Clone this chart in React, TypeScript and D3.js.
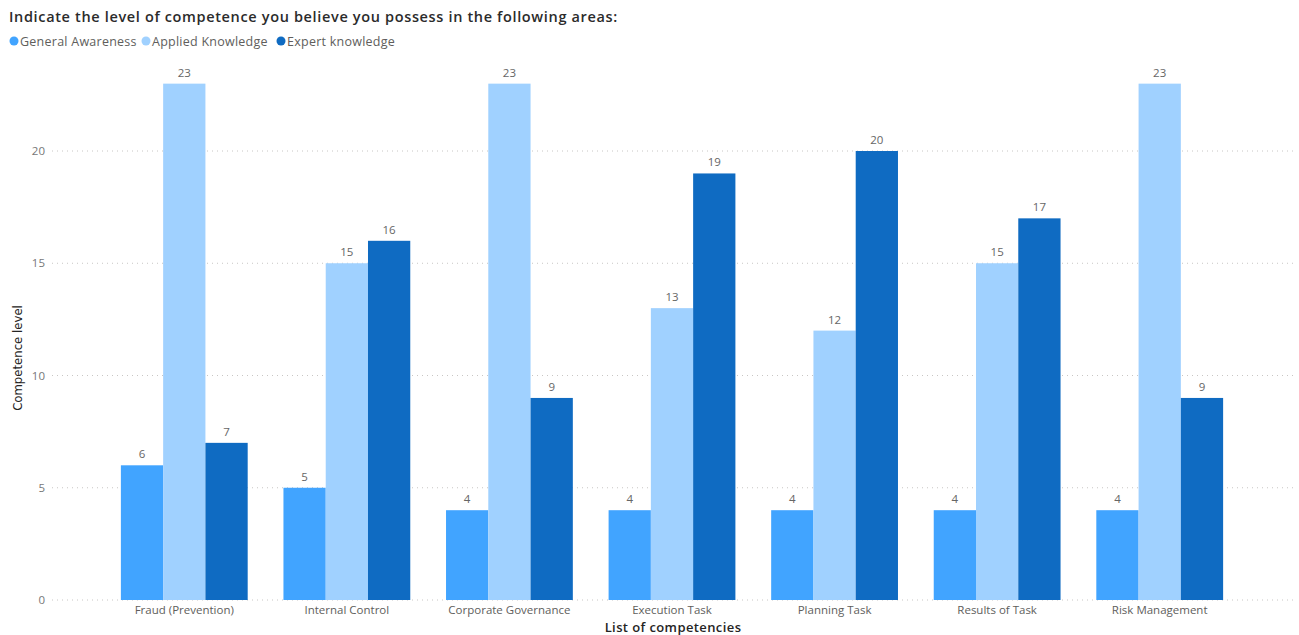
import React from "react";
import * as d3 from "d3";

const categories = [
  "Fraud (Prevention)",
  "Internal Control",
  "Corporate Governance",
  "Execution Task",
  "Planning Task",
  "Results of Task",
  "Risk Management",
];
const seriesNames = ["General Awareness", "Applied Knowledge", "Expert knowledge"];
const generalAwareness = [6, 5, 4, 4, 4, 4, 4];
const appliedKnowledge = [23, 15, 23, 13, 12, 15, 23];
const expertKnowledge = [7, 16, 9, 19, 20, 17, 9];
const yTicks = [0, 5, 10, 15, 20];
const colors = ["#41A4FF", "#A0D1FF", "#0F6BC2"];

const W = 1299;
const H = 635;

export default function App() {
  const series = [generalAwareness, appliedKnowledge, expertKnowledge];
  const y = d3.scaleLinear().domain([0, 20]).range([600, 151]);
  const x = d3
    .scaleBand<string>()
    .domain(categories)
    .range([103, 1241])
    .paddingInner(0.22)
    .paddingOuter(0.11);
  const xs = d3
    .scaleBand<string>()
    .domain(seriesNames)
    .range([0, x.bandwidth()]);
  const font = "'Segoe UI', 'Open Sans', 'DejaVu Sans', sans-serif";
  const narrow = "'Liberation Sans Narrow', 'DejaVu Sans Condensed', 'Roboto', sans-serif";

  const legendItems = [
    { x: 14, label: seriesNames[0] },
    { x: 146, label: seriesNames[1] },
    { x: 281, label: seriesNames[2] },
  ];

  return (
    <svg
      width={W}
      height={H}
      style={{ position: "absolute", left: 0, top: 0, background: "#fff" }}
    >
      <text
        x={9}
        y={22}
        fontFamily={font}
        fontSize={14.5}
        fill="#2b2b2b"
        fontWeight={600}
        letterSpacing={0.65}
      >
        Indicate the level of competence you believe you possess in the following areas:
      </text>
      {legendItems.map((l, i) => (
        <g key={l.label}>
          <circle cx={l.x} cy={41} r={4.5} fill={colors[i]} />
          <text
            x={l.x + 6}
            y={45.5}
            fontFamily={font}
            fontSize={12.5}
            letterSpacing={0.25}
            fill="#605E5C"
          >
            {l.label}
          </text>
        </g>
      ))}
      {yTicks.map((t) => (
        <g key={t}>
          <line
            x1={52}
            x2={1295}
            y1={y(t)}
            y2={y(t)}
            stroke="#C8C6C4"
            strokeWidth={1}
            strokeDasharray="1,4"
          />
          <text
            x={45}
            y={y(t) + 4}
            textAnchor="end"
            fontFamily={font}
            fontSize={11.5}
            fill="#777"
          >
            {t}
          </text>
        </g>
      ))}
      <text
        transform={`translate(22,${358}) rotate(-90)`}
        textAnchor="middle"
        fontFamily={narrow}
        fontSize={13}
        fill="#252423"
      >
        Competence level
      </text>
      {categories.map((c, ci) => (
        <g key={c} transform={`translate(${x(c)},0)`}>
          {series.map((s, si) => {
            const bx = xs(seriesNames[si])!;
            const v = s[ci];
            return (
              <g key={si}>
                <rect
                  x={bx}
                  y={y(v)}
                  width={xs.bandwidth()}
                  height={y(0) - y(v)}
                  fill={colors[si]}
                />
                <text
                  x={bx + xs.bandwidth() / 2}
                  y={y(v) - 7}
                  textAnchor="middle"
                  fontFamily={font}
                  fontSize={11.5}
                  fill="#666"
                >
                  {v}
                </text>
              </g>
            );
          })}
          <text
            x={x.bandwidth() / 2}
            y={614}
            textAnchor="middle"
            fontFamily={font}
            fontSize={11.5}
            fill="#605E5C"
          >
            {c}
          </text>
        </g>
      ))}
      <text
        x={673}
        y={632}
        textAnchor="middle"
        fontFamily={font}
        fontSize={13}
        fontWeight={600}
        letterSpacing={0.4}
        fill="#252423"
      >
        List of competencies
      </text>
    </svg>
  );
}
